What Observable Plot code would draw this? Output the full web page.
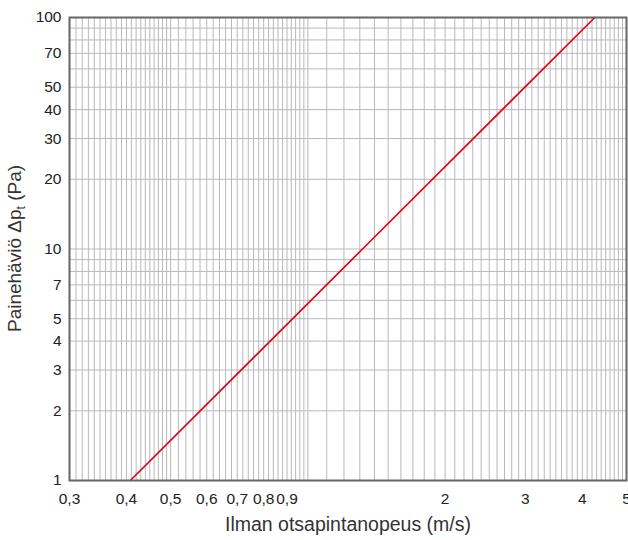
<!DOCTYPE html>
<html>
<head>
<meta charset="utf-8">
<script src="https://cdn.jsdelivr.net/npm/d3@7"></script>
<script src="https://cdn.jsdelivr.net/npm/@observablehq/plot@0.6"></script>
<style>
  html, body { margin: 0; padding: 0; background: #fff; }
  #chart svg { display: block; font-family: "Liberation Sans", Arial, sans-serif; }
</style>
</head>
<body>
<div id="chart"></div>
<script>
// Data: straight line on log-log chart (velocity m/s -> pressure drop Pa)
const velocity = [0.408, 1.318, 4.26];
const pressure = [1, 10, 100];

// Tick labels
const xTicks = [0.3, 0.4, 0.5, 0.6, 0.7, 0.8, 0.9, 2, 3, 4, 5];
const yTicks = [1, 2, 3, 4, 5, 7, 10, 20, 30, 40, 50, 70, 100];

// Grid lines
const xGrid = [
  ...d3.range(30, 50).map(d => d / 100),
  ...d3.range(50, 100, 2).map(d => d / 100),
  ...d3.range(10, 51).map(d => d / 10)
];
const yGrid = [...d3.range(1, 10), ...d3.range(10, 101, 10)];

const line = velocity.map((v, i) => ({v, p: pressure[i]}));

const mt = 17, mb = 60, ml = 69, mr = 2;
const W = 628, H = 540;
const fmt = d => String(d).replace(".", ",");

const chart = Plot.plot({
  width: W,
  height: H,
  marginTop: mt,
  marginBottom: mb,
  marginLeft: ml,
  marginRight: mr,
  style: {fontFamily: "Liberation Sans, Arial, sans-serif", background: "#fff"},
  x: {type: "log", domain: [0.3, 5], axis: null},
  y: {type: "log", domain: [1, 100], axis: null},
  marks: [
    Plot.ruleX(xGrid, {stroke: "#b9b9b9", strokeWidth: 1}),
    Plot.ruleY(yGrid, {stroke: "#b9b9b9", strokeWidth: 1}),
    Plot.line(line, {x: "v", y: "p", stroke: "#e2001a", strokeWidth: 1.7}),
    Plot.frame({stroke: "#666", strokeWidth: 2}),
    Plot.text(xTicks, {
      x: d => d, frameAnchor: "bottom", dy: 19, text: fmt,
      fontSize: 15.5, fill: "#222", lineAnchor: "middle", textAnchor: "middle"
    }),
    Plot.text(yTicks, {
      y: d => d, frameAnchor: "left", dx: -8, text: fmt,
      fontSize: 15.5, fill: "#222", lineAnchor: "middle", textAnchor: "end"
    }),
    Plot.text(["Ilman otsapintanopeus (m/s)"], {
      frameAnchor: "bottom", dy: 44, text: d => d,
      fontSize: 19.5, fill: "#333", lineAnchor: "middle", textAnchor: "middle"
    })
  ]
});

document.getElementById("chart").appendChild(chart);

// Y axis title with subscript
const svg = d3.select(chart);
const ih = H - mt - mb;
const t = svg.append("text")
  .attr("transform", `translate(21,${mt + ih / 2}) rotate(-90)`)
  .attr("text-anchor", "middle")
  .attr("font-size", 19)
  .attr("fill", "#333")
  .attr("font-family", "Liberation Sans, Arial, sans-serif");
t.append("tspan").text("Painehäviö Δp");
t.append("tspan").attr("font-size", 12).attr("dy", 4).text("t");
t.append("tspan").attr("dy", -4).text(" (Pa)");
</script>
</body>
</html>
